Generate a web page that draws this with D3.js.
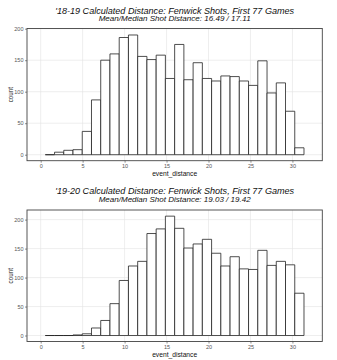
<!DOCTYPE html>
<html><head><meta charset="utf-8">
<script src="https://cdn.jsdelivr.net/npm/d3@7"></script>
<style>
html,body{margin:0;padding:0;background:#fff;}
svg{display:block;font-family:"Liberation Sans",Arial,Helvetica,sans-serif;}
</style></head>
<body><svg id="c" width="337" height="360"></svg>
<script>
// Data
const binStart = 0.55;
const binWidth = 1.101;
const counts1819 = [0, 4, 7, 8, 37, 87, 150, 160, 186, 190, 156, 151, 158, 121, 175, 119, 146, 121, 117, 125, 124, 117, 110, 149, 98, 114, 69, 11];
const counts1920 = [0, 0, 0, 1, 3, 13, 26, 55, 95, 120, 128, 176, 184, 206, 185, 151, 158, 166, 142, 120, 136, 115, 114, 147, 121, 128, 122, 73];
const titles = ["'18-19 Calculated Distance: Fenwick Shots, First 77 Games", "'19-20 Calculated Distance: Fenwick Shots, First 77 Games"];
const subtitles = ["Mean/Median Shot Distance: 16.49 / 17.11", "Mean/Median Shot Distance: 19.03 / 19.42"];
const xTicks = [0, 5, 10, 15, 20, 25, 30];
const yTicks = [0, 50, 100, 150, 200];
const xLabel = "event_distance";
const yLabel = "count";

const svg = d3.select("#c");
const panels = [
  {counts: counts1819, title: titles[0], sub: subtitles[0], top: 28.5, bottom: 160.7, ymin: -9.5, ymax: 200.3, tBase: 13.6, sBase: 21.2},
  {counts: counts1920, title: titles[1], sub: subtitles[1], top: 210, bottom: 341.5, ymin: -10.3, ymax: 216.6, tBase: 194.4, sBase: 202.2}
];
const left = 27, right = 322.3;
const x = d3.scaleLinear().domain([-1.63, 33.56]).range([left, right]);

function fit(sel, target) {
  const fs = +sel.attr("font-size");
  const w = sel.node().getComputedTextLength();
  if (w > 0) sel.attr("font-size", (fs * target / w).toFixed(2));
}

panels.forEach(p => {
  const y = d3.scaleLinear().domain([p.ymin, p.ymax]).range([p.bottom, p.top]);
  const g = svg.append("g");
  g.selectAll(".gx").data(xTicks).join("line")
    .attr("x1", d => x(d)).attr("x2", d => x(d)).attr("y1", p.top).attr("y2", p.bottom)
    .attr("stroke", "#e3e3e3").attr("stroke-width", 0.6);
  g.selectAll(".gy").data(yTicks).join("line")
    .attr("x1", left).attr("x2", right).attr("y1", d => y(d)).attr("y2", d => y(d))
    .attr("stroke", "#e3e3e3").attr("stroke-width", 0.6);
  const bins = p.counts.map((c, i) => ({x0: binStart + i * binWidth, x1: binStart + (i + 1) * binWidth, c}));
  g.selectAll(".bar").data(bins).join("path")
    .attr("d", d => `M${x(d.x0)},${y(0)}V${y(d.c)}H${x(d.x1)}V${y(0)}Z`)
    .attr("fill", "#fff").attr("stroke", "#222").attr("stroke-width", 0.8);
  g.append("rect").attr("x", left).attr("y", p.top).attr("width", right - left).attr("height", p.bottom - p.top)
    .attr("fill", "none").attr("stroke", "#444").attr("stroke-width", 0.9);
  const xa = g.append("g").attr("transform", `translate(0,${p.bottom})`)
    .call(d3.axisBottom(x).tickValues(xTicks).tickSize(2).tickPadding(1.5));
  const ya = g.append("g").attr("transform", `translate(${left},0)`)
    .call(d3.axisLeft(y).tickValues(yTicks).tickSize(2).tickPadding(1.5));
  [xa, ya].forEach(a => {
    a.select(".domain").remove();
    a.selectAll(".tick line").attr("stroke", "#444").attr("stroke-width", 0.6);
    a.selectAll(".tick text").attr("fill", "#555").attr("font-size", 5.5).attr("font-family", null);
  });
  const t = g.append("text").attr("x", (left + right) / 2).attr("y", p.tBase).attr("text-anchor", "middle")
    .attr("font-size", 8.6).attr("font-style", "italic").attr("fill", "#111").text(p.title);
  fit(t, 239);
  const s = g.append("text").attr("x", (left + right) / 2).attr("y", p.sBase).attr("text-anchor", "middle")
    .attr("font-size", 6.9).attr("font-style", "italic").attr("fill", "#111").text(p.sub);
  fit(s, 152);
  const xl = g.append("text").attr("x", (left + right) / 2).attr("y", p.bottom + 15.5).attr("text-anchor", "middle")
    .attr("font-size", 6.3).attr("fill", "#111").text(xLabel);
  fit(xl, 45);
  g.append("text").attr("transform", `translate(12.5,${(p.top + p.bottom) / 2}) rotate(-90)`).attr("text-anchor", "middle")
    .attr("font-size", 6.3).attr("fill", "#111").text(yLabel);
});
</script></body></html>
